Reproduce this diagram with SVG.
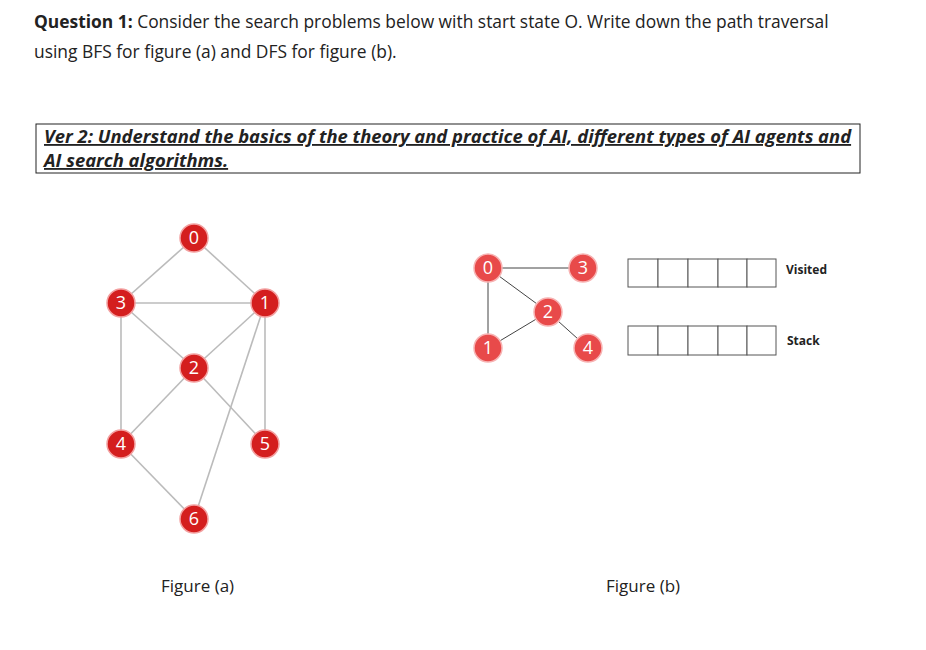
<svg xmlns="http://www.w3.org/2000/svg" width="926" height="650" viewBox="0 0 926 650">
<style>
text{font-family:"Open Sans","Noto Sans",sans-serif;fill:#222}
.e{stroke:#bbb;stroke-width:1.6}
.eb{stroke:#444;stroke-width:1}
.na circle{fill:#d41e1e;stroke:#f3a0a0;stroke-width:1.5}
.nb circle{fill:#e84a4a;stroke:#f7b3b3;stroke-width:1.5}
.n text{fill:#fff;font-size:18px;text-anchor:middle}
.cell{fill:#fff;stroke:#555;stroke-width:1}
</style>
<rect width="926" height="650" fill="#fff"/>
<text x="34" y="28" font-size="17.4"><tspan font-weight="bold">Question 1:</tspan> Consider the search problems below with start state O. Write down the path traversal</text>
<text x="34" y="58" font-size="17.4">using BFS for figure (a) and DFS for figure (b).</text>
<rect x="36" y="124" width="824" height="49" fill="none" stroke="#222" stroke-width="1"/>
<text x="44" y="143" font-size="18.4" font-weight="bold" font-style="italic" text-decoration="underline">Ver 2: Understand the basics of the theory and practice of AI, different types of AI agents and</text>
<text x="44" y="167" font-size="18.4" font-weight="bold" font-style="italic" text-decoration="underline">AI search algorithms.</text>
<g id="connectors">
<line class="e" x1="194" y1="238" x2="121" y2="303"/>
<line class="e" x1="194" y1="238" x2="265" y2="303"/>
<line class="e" x1="121" y1="303" x2="265" y2="303"/>
<line class="e" x1="121" y1="303" x2="194" y2="368"/>
<line class="e" x1="265" y1="303" x2="194" y2="368"/>
<line class="e" x1="121" y1="303" x2="121" y2="444"/>
<line class="e" x1="194" y1="368" x2="121" y2="444"/>
<line class="e" x1="194" y1="368" x2="265" y2="444"/>
<line class="e" x1="265" y1="303" x2="265" y2="444"/>
<line class="e" x1="265" y1="303" x2="194" y2="519"/>
<line class="e" x1="121" y1="444" x2="194" y2="519"/>
<line class="eb" x1="488" y1="268" x2="583" y2="268"/>
<line class="eb" x1="488" y1="268" x2="548" y2="312"/>
<line class="eb" x1="488" y1="268" x2="488" y2="348"/>
<line class="eb" x1="488" y1="348" x2="548" y2="312"/>
<line class="eb" x1="548" y1="312" x2="588" y2="348"/>
</g>
<g id="a0" class="n na"><circle cx="194" cy="238" r="14"/><text x="194" y="244">0</text></g>
<g id="a1" class="n na"><circle cx="265" cy="303" r="14"/><text x="265" y="309">1</text></g>
<g id="a2" class="n na"><circle cx="194" cy="368" r="14"/><text x="194" y="374">2</text></g>
<g id="a3" class="n na"><circle cx="121" cy="303" r="14"/><text x="121" y="309">3</text></g>
<g id="a4" class="n na"><circle cx="121" cy="444" r="14"/><text x="121" y="450">4</text></g>
<g id="a5" class="n na"><circle cx="265" cy="444" r="14"/><text x="265" y="450">5</text></g>
<g id="a6" class="n na"><circle cx="194" cy="519" r="14"/><text x="194" y="525">6</text></g>
<g id="b0" class="n nb"><circle cx="488" cy="268" r="14"/><text x="488" y="274">0</text></g>
<g id="b1" class="n nb"><circle cx="488" cy="348" r="14"/><text x="488" y="354">1</text></g>
<g id="b2" class="n nb"><circle cx="548" cy="312" r="14"/><text x="548" y="318">2</text></g>
<g id="b3" class="n nb"><circle cx="583" cy="268" r="14"/><text x="583" y="274">3</text></g>
<g id="b4" class="n nb"><circle cx="588" cy="348" r="14"/><text x="588" y="354">4</text></g>
<g id="visited">
<rect class="cell" x="628" y="259" width="30" height="28"/><rect class="cell" x="658" y="259" width="30" height="28"/><rect class="cell" x="688" y="259" width="30" height="28"/><rect class="cell" x="718" y="259" width="29" height="28"/><rect class="cell" x="747" y="259" width="29" height="28"/>
<text x="786" y="274" font-size="12" font-weight="bold">Visited</text>
</g>
<g id="stack">
<rect class="cell" x="628" y="326" width="30" height="29"/><rect class="cell" x="658" y="326" width="30" height="29"/><rect class="cell" x="688" y="326" width="30" height="29"/><rect class="cell" x="718" y="326" width="29" height="29"/><rect class="cell" x="747" y="326" width="29" height="29"/>
<text x="787" y="345" font-size="12" font-weight="bold">Stack</text>
</g>
<text x="161" y="592" font-size="17">Figure (a)</text>
<text x="606" y="592" font-size="17">Figure (b)</text>
</svg>
